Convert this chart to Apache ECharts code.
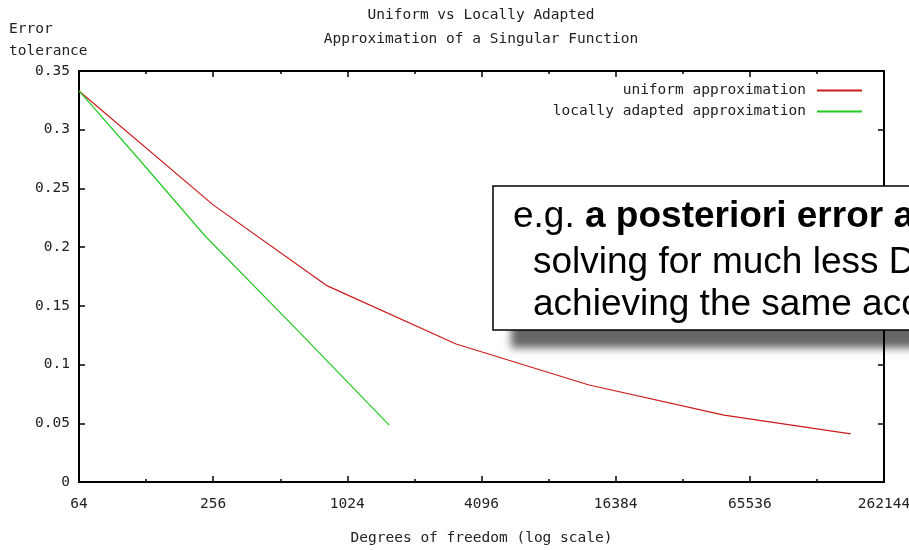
<!DOCTYPE html>
<html>
<head>
<meta charset="utf-8">
<title>Uniform vs Locally Adapted</title>
<script src="https://cdn.jsdelivr.net/npm/echarts@6/dist/echarts.min.js"></script>
<style>
html, body { margin: 0; padding: 0; background: #fff; }
#main { width: 909px; height: 550px; }
</style>
</head>
<body>
<div id="main"></div>
<script>
// values (degrees of freedom -> error tolerance)
var uniformDof = [64, 256, 833, 3150, 12450, 50200, 186000];
var uniformErr = [0.333, 0.236, 0.167, 0.1175, 0.0826, 0.057, 0.041];
var adaptedDof = [64, 120, 235, 628, 1578];
var adaptedErr = [0.333, 0.274, 0.2097, 0.127, 0.0485];

var seriesNames = ['uniform approximation', 'locally adapted approximation'];
var titleLines = ['Uniform vs Locally Adapted', 'Approximation of a Singular Function'];
var yNameLines = ['Error', 'tolerance'];
var xName = 'Degrees of freedom (log scale)';
var boxLead = 'e.g. ';
var boxBold = 'a posteriori error a';
var boxLines = ['solving for much less D', 'achieving the same acc'];

var mono = 'DejaVu Sans Mono';
var txtColor = '#222';

function pairs(xs, ys) {
	var out = [];
	for (var i = 0; i < xs.length; i++) {
		out.push([xs[i], ys[i]]);
	}
	return out;
}

// one x axis: major ticks (powers of 4) or minor ticks (powers of 2)
function xAxisDef(pos, base, tickLen, labelled) {
	var ax = {
		type: 'log',
		logBase: base,
		min: 64,
		max: 262144,
		interval: 1,
		position: pos,
		axisLine: {show: false},
		axisTick: {show: true, inside: true, length: tickLen, lineStyle: {color: '#000', width: 1.5}},
		axisLabel: {show: false},
		splitLine: {show: false}
	};
	if (labelled) {
		ax.axisLabel = {
			show: true, margin: 15, color: txtColor, fontFamily: mono, fontSize: 14.5,
			formatter: function (v) { return String(Math.round(v)); }
		};
		ax.name = xName;
		ax.nameLocation = 'middle';
		ax.nameGap = 49;
		ax.nameTextStyle = {color: txtColor, fontFamily: mono, fontSize: 14.5};
	}
	return ax;
}

function yAxisDef(pos, labelled) {
	return {
		type: 'value',
		min: 0,
		max: 0.35,
		interval: 0.05,
		position: pos,
		axisLine: {show: false},
		axisTick: {show: true, inside: true, length: 6, lineStyle: {color: '#000', width: 1.5}},
		axisLabel: {show: labelled, margin: 9, color: txtColor, fontFamily: mono, fontSize: 14.5},
		splitLine: {show: false}
	};
}

var myChart = echarts.init(document.getElementById('main'));

var boxFont = '37px "Liberation Sans"';

var option = {
	animation: false,
	backgroundColor: '#fff',
	title: {
		text: titleLines.join('\n'),
		left: 481,
		top: 3,
		padding: 0,
		textAlign: 'center',
		textStyle: {fontFamily: mono, fontSize: 14.5, fontWeight: 'normal', color: txtColor, lineHeight: 24}
	},
	legend: {
		data: seriesNames,
		orient: 'vertical',
		right: 46,
		top: 83,
		padding: 0,
		align: 'right',
		itemWidth: 45,
		itemHeight: 14,
		itemGap: 6,
		selectedMode: false,
		itemStyle: {opacity: 0},
		textStyle: {fontFamily: mono, fontSize: 14.5, color: txtColor, padding: [0, 6, 0, 0]}
	},
	grid: {
		left: 79, right: 25, top: 71, bottom: 68,
		outerBoundsMode: 'none',
		containLabel: false,
		show: true, borderColor: '#000', borderWidth: 2
	},
	xAxis: [
		xAxisDef('bottom', 4, 6, true),
		xAxisDef('bottom', 2, 3, false),
		xAxisDef('top', 4, 6, false),
		xAxisDef('top', 2, 3, false)
	],
	yAxis: [
		yAxisDef('left', true),
		yAxisDef('right', false)
	],
	series: [
		{
			name: seriesNames[0],
			type: 'line',
			xAxisIndex: 0,
			yAxisIndex: 0,
			symbol: 'none',
			color: '#cc1a1a',
			lineStyle: {width: 1.2},
			data: pairs(uniformDof, uniformErr)
		},
		{
			name: seriesNames[1],
			type: 'line',
			xAxisIndex: 0,
			yAxisIndex: 0,
			symbol: 'none',
			color: '#22c922',
			lineStyle: {width: 1.2},
			data: pairs(adaptedDof, adaptedErr)
		}
	],
	graphic: [
		{
			type: 'text', left: 9, top: 18,
			style: {text: yNameLines.join('\n'), font: '14.5px "DejaVu Sans Mono"', fill: txtColor, lineHeight: 22}
		},
		// callout box pasted over the plot, cut off at the right edge
		{
			type: 'rect', z: 100,
			shape: {x: 493, y: 186, width: 520, height: 144},
			style: {
				fill: '#fff',
				shadowBlur: 8, shadowColor: 'rgba(0,0,0,0.6)',
				shadowOffsetX: 18, shadowOffsetY: 18
			}
		},
		{
			type: 'rect', z: 101,
			shape: {x: 493, y: 186, width: 520, height: 144},
			style: {fill: '#fff', stroke: '#000', lineWidth: 1.5}
		},
		{
			type: 'text', z: 102, x: 513, y: 217,
			style: {
				text: '{r|' + boxLead + '}{b|' + boxBold + '}',
				verticalAlign: 'middle',
				rich: {
					r: {font: boxFont, fill: '#000'},
					b: {font: 'bold ' + boxFont, fill: '#000'}
				}
			}
		},
		{
			type: 'text', z: 102, x: 533, y: 263,
			style: {text: boxLines[0], font: boxFont, fill: '#000', verticalAlign: 'middle'}
		},
		{
			type: 'text', z: 102, x: 533, y: 305,
			style: {text: boxLines[1], font: boxFont, fill: '#000', verticalAlign: 'middle'}
		}
	]
};
myChart.setOption(option);
</script>
</body>
</html>
